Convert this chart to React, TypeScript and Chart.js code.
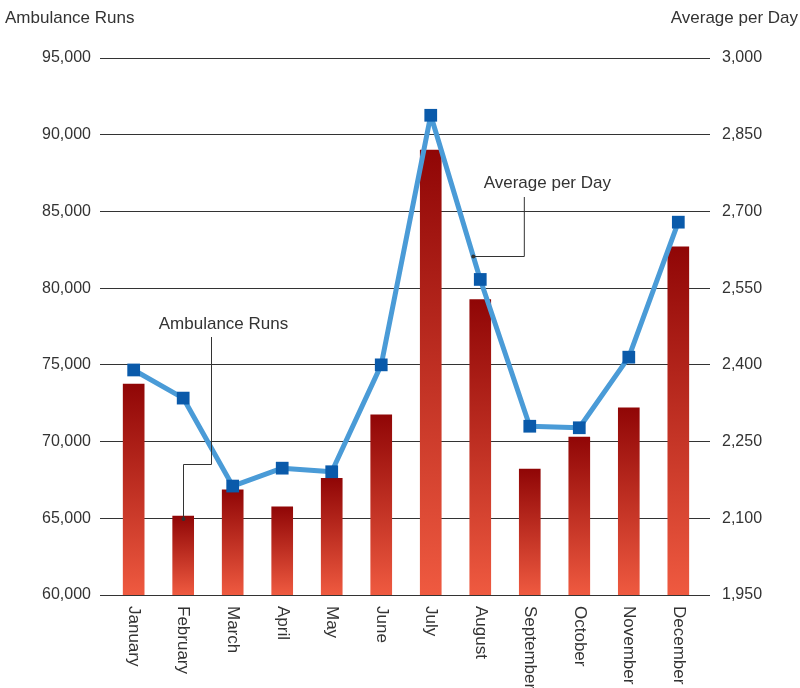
import { useEffect, useRef } from 'react'
import Chart from 'chart.js/auto'

const MONTHS = [
  'January', 'February', 'March', 'April', 'May', 'June',
  'July', 'August', 'September', 'October', 'November', 'December',
]

// monthly totals, left axis
const AMBULANCE_RUNS = [73750, 65150, 66850, 65750, 67600, 71750, 89000, 79250, 68200, 70300, 72200, 82700]

// daily average, right axis
const AVERAGE_PER_DAY = [2390, 2335, 2163, 2198, 2191, 2400, 2888, 2567, 2280, 2277, 2415, 2679]

const LEFT_TICKS = { min: 60000, max: 95000, step: 5000 }
const RIGHT_TICKS = { min: 1950, max: 3000, step: 150 }

const FONT = '"Liberation Sans", Arial, sans-serif'
const TEXT_COLOR = '#333'
const BAR_TOP = '#900606'
const BAR_BOTTOM = '#ef5a40'
const LINE_COLOR = '#4a9bd7'
const POINT_COLOR = '#0a5aaa'

const fmt = (v: number) => v.toLocaleString('en-US')

// draws rotated month labels, the two axis titles and the callouts
const decorations = {
  id: 'decorations',
  afterDraw(chart: Chart) {
    const { ctx, chartArea } = chart
    const x = chart.scales.x
    ctx.save()
    ctx.fillStyle = TEXT_COLOR
    ctx.font = `17px ${FONT}`

    // month labels, reading top to bottom
    MONTHS.forEach((m, i) => {
      ctx.save()
      ctx.translate(x.getPixelForValue(i), chartArea.bottom + 11)
      ctx.rotate(Math.PI / 2)
      ctx.textAlign = 'left'
      ctx.textBaseline = 'middle'
      ctx.fillText(m, 0, 0)
      ctx.restore()
    })

    ctx.textBaseline = 'middle'
    ctx.textAlign = 'left'
    ctx.fillText('Ambulance Runs', 5, 18)
    ctx.textAlign = 'right'
    ctx.fillText('Average per Day', 798, 18)

    ctx.strokeStyle = '#333'
    ctx.lineWidth = 1

    // callout for the bars, anchored on the February bar
    const barMeta = chart.getDatasetMeta(1)
    const feb = barMeta.data[1] as any
    const ax = Math.round(feb.x) + 0.5
    const ay = feb.y + 3
    ctx.beginPath()
    ctx.moveTo(ax, ay)
    ctx.lineTo(ax, 464.5)
    ctx.lineTo(ax + 28, 464.5)
    ctx.lineTo(ax + 28, 337)
    ctx.stroke()
    ctx.beginPath()
    ctx.arc(ax, ay, 2, 0, Math.PI * 2)
    ctx.fill()
    ctx.textAlign = 'center'
    ctx.fillText('Ambulance Runs', ax + 40, 324)

    // callout for the line, anchored between July and August
    const lineMeta = chart.getDatasetMeta(0)
    const jul = lineMeta.data[6] as any
    const aug = lineMeta.data[7] as any
    const t = 0.86
    const lx = jul.x + (aug.x - jul.x) * t
    const ly = Math.round(jul.y + (aug.y - jul.y) * t) + 0.5
    ctx.beginPath()
    ctx.moveTo(lx, ly)
    ctx.lineTo(lx + 51, ly)
    ctx.lineTo(lx + 51, 197)
    ctx.stroke()
    ctx.beginPath()
    ctx.arc(lx, ly, 2, 0, Math.PI * 2)
    ctx.fill()
    ctx.fillText('Average per Day', lx + 74, 183)

    ctx.restore()
  },
}

export default function App() {
  const canvasRef = useRef<HTMLCanvasElement>(null)

  useEffect(() => {
    if (!canvasRef.current) return
    const chart = new Chart(canvasRef.current, {
      type: 'bar',
      data: {
        datasets: [
          {
            type: 'line',
            label: 'Average per Day',
            data: AVERAGE_PER_DAY.map((v, i) => ({ x: i, y: v })),
            yAxisID: 'y1',
            borderColor: LINE_COLOR,
            borderWidth: 5,
            borderJoinStyle: 'round',
            pointStyle: 'rect',
            pointRadius: 9,
            pointBackgroundColor: POINT_COLOR,
            pointBorderWidth: 0,
            tension: 0,
            order: 0,
          },
          {
            type: 'bar',
            label: 'Ambulance Runs',
            data: AMBULANCE_RUNS.map((v, i) => ({ x: i, y: v })),
            yAxisID: 'y',
            barThickness: 21,
            order: 1,
            backgroundColor: (c: any) => {
              const { chart: ch, raw } = c
              const area = ch.chartArea
              if (!area || !raw) return BAR_TOP
              const top = ch.scales.y.getPixelForValue(raw.y)
              const g = ch.ctx.createLinearGradient(0, top, 0, area.bottom)
              g.addColorStop(0, BAR_TOP)
              g.addColorStop(1, BAR_BOTTOM)
              return g
            },
          },
        ],
      },
      options: {
        animation: false,
        responsive: true,
        maintainAspectRatio: false,
        layout: { padding: { top: 58, left: 0, right: 0, bottom: 0 } },
        plugins: {
          legend: { display: false },
          tooltip: { enabled: false },
        },
        scales: {
          x: {
            type: 'linear',
            offset: false,
            min: -0.68,
            max: 11.64,
            grid: { display: false },
            border: { display: false },
            ticks: { display: false },
            afterFit: (s: any) => {
              s.height = 93
            },
          },
          y: {
            position: 'left',
            min: LEFT_TICKS.min,
            max: LEFT_TICKS.max,
            ticks: {
              stepSize: LEFT_TICKS.step,
              padding: 9,
              color: TEXT_COLOR,
              font: { family: FONT, size: 16 },
              callback: (v: any) => fmt(Number(v)),
            },
            grid: { color: '#333', drawTicks: false, lineWidth: 1 },
            border: { display: false },
            afterFit: (s: any) => {
              s.width = 100
            },
          },
          y1: {
            position: 'right',
            min: RIGHT_TICKS.min,
            max: RIGHT_TICKS.max,
            ticks: {
              stepSize: RIGHT_TICKS.step,
              padding: 12,
              color: TEXT_COLOR,
              font: { family: FONT, size: 16 },
              callback: (v: any) => fmt(Number(v)),
            },
            grid: { display: false, drawTicks: false },
            border: { display: false },
            afterFit: (s: any) => {
              s.width = 90
            },
          },
        },
      },
      plugins: [decorations],
    })
    return () => chart.destroy()
  }, [])

  return (
    <div style={{ position: 'absolute', left: 0, top: 0, width: 800, height: 688, background: '#fff' }}>
      <canvas ref={canvasRef}></canvas>
    </div>
  )
}
